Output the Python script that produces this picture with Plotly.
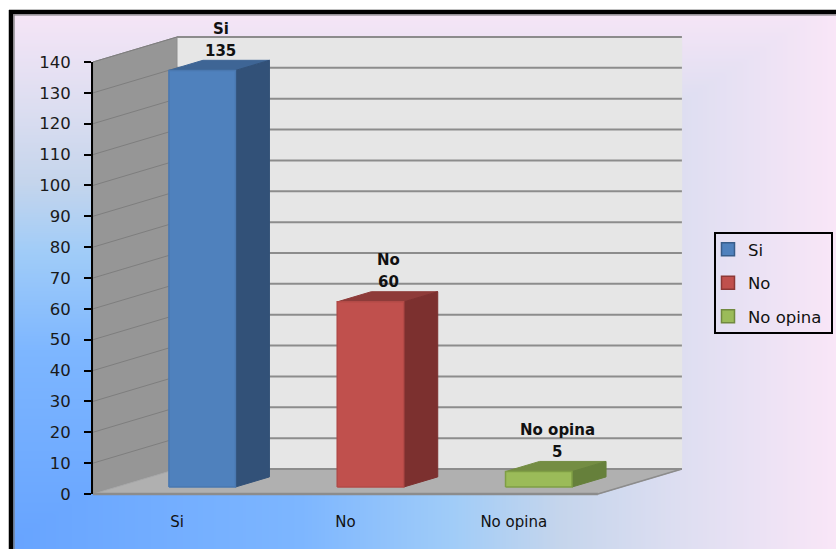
import numpy as np
import plotly.graph_objects as go

# Chart data
categories = ["Si", "No", "No opina"]
values = [135, 60, 5]
tick_values = list(range(0, 141, 10))

# Canvas and oblique projection settings
W, H = 836, 549
X0_PX, Y0_PX = 93, 494          # front-left corner of the floor
CAT_PX = 168.3                  # pixels per category
UNIT_PX = 432 / 140             # pixels per value unit
DEPTH_X = 84 / CAT_PX           # full depth, in category units
DEPTH_Y = 25 / UNIT_PX          # full depth, in value units
BAR_W = 66.5 / CAT_PX
BAR_SHIFT = 1.5 / CAT_PX
BAR_Z0, BAR_Z1 = 0.28, 0.685    # bar front and back depth
YMAX = 140

face_colors = ["#4F81BD", "#C0504D", "#9BBB59"]
edge_colors = ["#4A78B0", "#B24A47", "#7F9E45"]
top_colors = ["#3E6595", "#8E3B39", "#748D43"]
side_colors = ["#325178", "#7C302F", "#66803B"]
swatch_edges = ["#385D8A", "#8C3836", "#71893F"]


def project(c, v, z=0.0):
    """Map category position, value and depth onto the flat drawing axes."""
    return c + z * DEPTH_X, v + z * DEPTH_Y


def poly(points, color, line=None, width=1):
    xs, ys = zip(*[project(*p) for p in points + points[:1]])
    return go.Scatter(
        x=xs, y=ys, mode="lines", fill="toself", fillcolor=color,
        line=dict(color=line or color, width=width),
        showlegend=False, hoverinfo="skip",
    )


def segments(pairs, color, width):
    xs, ys = [], []
    for a, b in pairs:
        for p in (a, b):
            x, y = project(*p)
            xs.append(x)
            ys.append(y)
        xs.append(None)
        ys.append(None)
    return go.Scatter(x=xs, y=ys, mode="lines", line=dict(color=color, width=width),
                      showlegend=False, hoverinfo="skip")


fig = go.Figure()

# Rectangular gradient background rising from the lower-left corner
px = np.arange(12, W + 8, 4.0)
py = np.arange(12, H + 8, 4.0)
uu, vv = np.meshgrid(px / W, (H - py) / H)
fig.add_trace(go.Heatmap(
    x=(px - X0_PX) / CAT_PX, y=(Y0_PX - py) / UNIT_PX, z=np.maximum(uu, vv),
    zmin=0, zmax=1, zsmooth="best", showscale=False, hoverinfo="skip",
    colorscale=[[0, "#66A3FF"], [0.36, "#7DB6FF"], [0.54, "#A0CCF8"], [0.67, "#C5D5EC"],
                [0.81, "#DDDEF1"], [1, "#F9E6F7"]],
))

# Walls and floor
n = len(categories)
fig.add_trace(poly([(0, 0, 1), (n, 0, 1), (n, YMAX, 1), (0, YMAX, 1)], "#E6E6E6", width=0.5))
fig.add_trace(poly([(0, 0, 0), (0, 0, 1), (0, YMAX, 1), (0, YMAX, 0)], "#969696", line="#8E8E8E"))
fig.add_trace(poly([(0, 0, 0), (n, 0, 0), (n, 0, 1), (0, 0, 1)], "#B0B0B0", line="#A8A8A8"))

# Gridlines on the back and side walls
fig.add_trace(segments([((0, t, 1), (n, t, 1)) for t in tick_values], "#8C8C8C", 2))
fig.add_trace(segments([((0, t, 0), (0, t, 1)) for t in tick_values[1:]], "#7E7E7E", 1))
fig.add_trace(segments([((0, 0, 0), (n, 0, 0))], "#8C8C8C", 2.5))
fig.add_trace(segments([((n, 0, 0), (n, 0, 1))], "#8C8C8C", 1.5))

# Bars: top and side faces first, then the front face
for i, val in enumerate(values):
    mid = i + 0.5 + BAR_SHIFT
    c0, c1 = mid - BAR_W / 2, mid + BAR_W / 2
    fig.add_trace(poly([(c0, val, BAR_Z0), (c1, val, BAR_Z0), (c1, val, BAR_Z1), (c0, val, BAR_Z1)],
                       top_colors[i]))
    fig.add_trace(poly([(c1, 0, BAR_Z0), (c1, 0, BAR_Z1), (c1, val, BAR_Z1), (c1, val, BAR_Z0)],
                       side_colors[i]))
    fig.add_trace(poly([(c0, 0, BAR_Z0), (c1, 0, BAR_Z0), (c1, val, BAR_Z0), (c0, val, BAR_Z0)],
                       face_colors[i], line=edge_colors[i], width=1.5))

# Square legend keys
for i, cat in enumerate(categories):
    fig.add_trace(go.Scatter(
        x=[None], y=[None], mode="markers", name=cat, legendgroup=cat, hoverinfo="skip",
        marker=dict(symbol="square", size=13, color=face_colors[i],
                    line=dict(color=swatch_edges[i], width=1.5)),
    ))

# Data labels sit above the back edge of each bar top
annotations = []
for i, (cat, val) in enumerate(zip(categories, values)):
    x, y = project(i + 0.5, val, BAR_Z1)
    x -= (BAR_Z1 - BAR_Z0) * DEPTH_X / 2
    for text, shift in ((str(val), -1.5), (cat, 20.5)):
        annotations.append(dict(
            x=x, y=y, xref="x", yref="y", text=f"<b>{text}</b>", showarrow=False,
            xanchor="center", yanchor="bottom", yshift=shift, xshift=3,
            font=dict(family="DejaVu Sans", size=15, color="#111111"),
        ))

# Invisible carrier so the visible category and value axes are drawn
fig.add_trace(go.Scatter(
    x=[i + 0.5 for i in range(n)], y=values, xaxis="x2", yaxis="y2", mode="markers",
    marker=dict(opacity=0), showlegend=False, hoverinfo="skip",
))

frame = [
    dict(type="line", xref="paper", yref="paper", x0=11 / W, x1=11 / W, y0=-0.1, y1=1 - 10 / H,
         line=dict(color="#000000", width=4.5)),
    dict(type="line", xref="paper", yref="paper", x0=9 / W, x1=1.1, y0=1 - 12 / H, y1=1 - 12 / H,
         line=dict(color="#000000", width=4.5)),
    dict(type="line", xref="paper", yref="paper", x0=14 / W, x1=14 / W, y0=-0.1, y1=1 - 14.5 / H,
         line=dict(color="#777777", width=1.2)),
    dict(type="line", xref="paper", yref="paper", x0=14 / W, x1=1.1, y0=1 - 15 / H, y1=1 - 15 / H,
         line=dict(color="#777777", width=1.2)),
    # Legend box
    dict(type="rect", xref="paper", yref="paper", x0=715 / W, x1=832 / W, y0=1 - 333 / H, y1=1 - 233 / H,
         line=dict(color="#000000", width=2)),
]

fig.update_layout(
    width=W, height=H, margin=dict(l=0, r=0, t=0, b=0, pad=0, autoexpand=False),
    paper_bgcolor="#FFFFFF", plot_bgcolor="rgba(0,0,0,0)",
    font=dict(family="DejaVu Sans", color="#111111"),
    xaxis=dict(domain=[0, 1], range=[-X0_PX / CAT_PX, (W - X0_PX) / CAT_PX], visible=False, fixedrange=True),
    yaxis=dict(domain=[0, 1], range=[(Y0_PX - H) / UNIT_PX, Y0_PX / UNIT_PX], visible=False, fixedrange=True),
    xaxis2=dict(
        domain=[X0_PX / W, (X0_PX + n * CAT_PX) / W], range=[0, n], anchor="y2",
        tickvals=[i + 0.5 for i in range(n)], ticktext=categories, showgrid=False, zeroline=False,
        ticks="outside", ticklen=14, tickcolor="rgba(0,0,0,0)", showline=False,
        tickfont=dict(family="DejaVu Sans", size=15, color="#111111"), fixedrange=True,
    ),
    yaxis2=dict(
        domain=[(H - Y0_PX) / H, (H - Y0_PX + YMAX * UNIT_PX) / H], range=[0, YMAX], anchor="x2",
        tickvals=tick_values, showgrid=False, zeroline=False, showline=True, linecolor="#000000",
        linewidth=2, ticks="outside", ticklen=7, tickwidth=2, tickcolor="#000000",
        ticklabelstandoff=10, tickfont=dict(family="DejaVu Sans", size=16.5, color="#1A1A1A"),
        fixedrange=True,
    ),
    legend=dict(
        x=715 / W, y=1 - 232 / H, xanchor="left", yanchor="top", bgcolor="rgba(0,0,0,0)",
        borderwidth=0, font=dict(family="DejaVu Sans", size=16.5, color="#111111"),
        tracegroupgap=9, traceorder="grouped", itemwidth=30, indentation=-7,
    ),
    shapes=frame, annotations=annotations,
)

fig.write_html("out.html", config=dict(displayModeBar=False))
